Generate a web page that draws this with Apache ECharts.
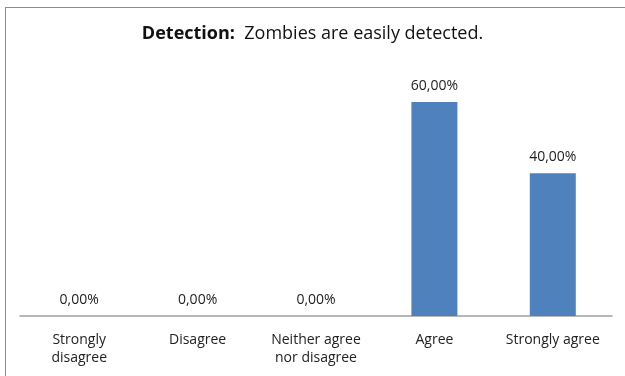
<!DOCTYPE html>
<html>
<head>
<meta charset="utf-8">
<script src="https://cdn.jsdelivr.net/npm/echarts@6/dist/echarts.min.js"></script>
<style>
  html, body { margin: 0; padding: 0; background: #fff; overflow: hidden; width: 625px; height: 376px; }
  #frame { position: absolute; left: 5px; top: 7px; width: 700px; height: 400px;
           border-left: 1px solid #8c8c8c; border-top: 1px solid #8c8c8c; box-sizing: border-box; }
  #chart { position: absolute; left: 0; top: 0; width: 625px; height: 376px; }
</style>
</head>
<body>
<div id="frame"></div>
<div id="chart"></div>
<script>
// categories and answer shares (percent)
var categories = ['Strongly\ndisagree', 'Disagree', 'Neither agree\nnor disagree', 'Agree', 'Strongly agree'];
var shares = [0, 0, 0, 60, 40];

var chart = echarts.init(document.getElementById('chart'), null, { renderer: 'canvas' });

chart.setOption({
  animation: false,
  title: {
    text: '{b|Detection:}  Zombies are easily detected.',
    left: 'center',
    top: 20,
    textStyle: {
      fontFamily: 'Open Sans',
      fontSize: 18,
      fontWeight: 'normal',
      color: '#111',
      rich: {
        b: { fontFamily: 'Open Sans', fontSize: 18, fontWeight: 'bold', color: '#111' }
      }
    }
  },
  grid: {
    left: 20,
    right: 13,
    top: 102,
    bottom: 60
  },
  xAxis: {
    type: 'category',
    data: categories,
    axisTick: { show: false },
    axisLine: { lineStyle: { color: '#a0a0a0', width: 1.5 } },
    axisLabel: {
      color: '#222',
      fontFamily: 'Open Sans',
      fontSize: 14,
      lineHeight: 18,
      margin: 15,
      interval: 0
    }
  },
  yAxis: {
    type: 'value',
    min: 0,
    max: 60,
    show: false,
    splitLine: { show: false }
  },
  series: [
    {
      type: 'bar',
      data: shares,
      barWidth: 46,
      itemStyle: { color: '#4f81bd' },
      label: {
        show: true,
        position: 'top',
        distance: 9,
        color: '#222',
        fontFamily: 'Open Sans',
        fontSize: 14,
        formatter: function (p) {
          return p.value.toFixed(2).replace('.', ',') + '%';
        }
      }
    }
  ]
});
</script>
</body>
</html>
